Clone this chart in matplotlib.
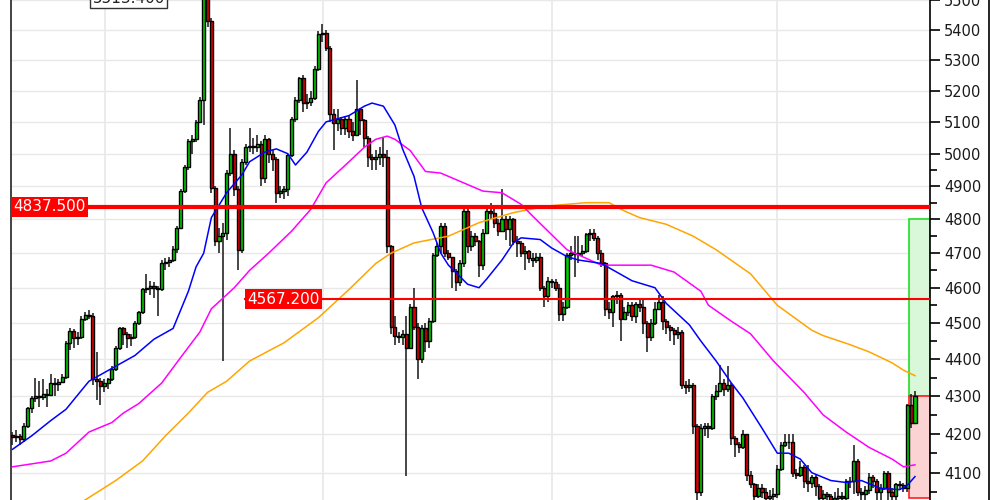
import numpy as np
import matplotlib.pyplot as plt
from matplotlib.ticker import FixedLocator, FuncFormatter, NullFormatter
from matplotlib.patches import Rectangle
from matplotlib.lines import Line2D
from matplotlib.transforms import blended_transform_factory

# candle data (open of each bar = previous close)
first_open = 4198
closes = [4192, 4195, 4188, 4222, 4268, 4295, 4300, 4298, 4305, 4302,
          4335, 4332, 4338, 4352, 4445, 4478, 4458, 4462, 4512, 4522,
          4520, 4345, 4340, 4328, 4335, 4345, 4372, 4430, 4485, 4470,
          4458, 4462, 4500, 4530, 4595, 4600, 4605, 4598, 4595, 4672,
          4675, 4680, 4712, 4775, 4885, 4960, 5040, 5045, 5100, 5170,
          5520, 5430, 4895, 4735, 4750, 4760, 4940, 5000, 4890, 4710,
          4975, 5020, 5025, 5020, 5030, 4925, 5045, 5000, 4985, 4880,
          4885, 4890, 4995, 5110, 5170, 5240, 5160, 5165, 5175, 5270,
          5385, 5390, 5340, 5125, 5095, 5110, 5080, 5110, 5070, 5060,
          5140, 5105, 5050, 4990, 4985, 4990, 5000, 4990, 4720, 4490,
          4465, 4462, 4470, 4432, 4545, 4490, 4400, 4485, 4450, 4505,
          4695, 4720, 4780, 4700, 4690, 4648, 4615, 4670, 4825, 4720,
          4750, 4735, 4665, 4760, 4825, 4820, 4790, 4765, 4800, 4770,
          4800, 4735, 4730, 4700, 4705, 4685, 4680, 4690, 4600, 4575,
          4620, 4615, 4600, 4525, 4545, 4695, 4700, 4698, 4700, 4705,
          4755, 4760, 4745, 4700, 4670, 4540, 4530, 4575, 4580, 4510,
          4530, 4550, 4520, 4555, 4545, 4500, 4460, 4500, 4540, 4560,
          4505, 4490, 4480, 4470, 4475, 4330, 4325, 4330, 4220, 4050,
          4215, 4220, 4215, 4300, 4315, 4335, 4320, 4330, 4190, 4175,
          4165, 4200, 4095, 4070, 4040, 4060, 4050, 4035, 4040, 4045,
          4110, 4170, 4180, 4178, 4100, 4095, 4115, 4080, 4075, 4090,
          4065, 4035, 4045, 4040, 4030, 4035, 4040, 4035, 4080, 4078,
          4130, 4050, 4045, 4055, 4090, 4080, 4050, 4060, 4100, 4050,
          4040, 4070, 4068, 4060, 4275, 4230, 4300]
highs = [4205, 4210, 4200, 4228, 4272, 4300, 4350, 4340, 4345, 4320,
         4360, 4350, 4345, 4360, 4450, 4485, 4482, 4475, 4520, 4530,
         4538, 4528, 4420, 4350, 4345, 4350, 4380, 4435, 4490, 4490,
         4475, 4470, 4505, 4535, 4600, 4640, 4620, 4615, 4605, 4680,
         4685, 4690, 4720, 4780, 4890, 4965, 5045, 5060, 5105, 5180,
         5540, 5530, 5440, 4900, 4775, 4790, 4950, 5080, 5010, 4900,
         4985, 5030, 5080, 5050, 5060, 5040, 5060, 5050, 5010, 4990,
         4900, 4900, 5000, 5115, 5180, 5245, 5250, 5190, 5200, 5280,
         5395, 5420, 5400, 5345, 5140, 5140, 5115, 5120, 5120, 5100,
         5235, 5145, 5110, 5055, 5000, 5010, 5020, 5050, 5010, 4725,
         4520, 4475, 4480, 4520, 4555, 4600, 4500, 4495, 4500, 4515,
         4700, 4730, 4790, 4790, 4710, 4690, 4655, 4680, 4835, 4835,
         4765, 4760, 4740, 4770, 4835, 4850, 4835, 4800, 4890, 4810,
         4810, 4805, 4750, 4735, 4720, 4710, 4700, 4700, 4700, 4605,
         4630, 4625, 4625, 4610, 4560, 4700, 4720, 4750, 4750, 4725,
         4760, 4770, 4770, 4750, 4710, 4675, 4560, 4580, 4590, 4585,
         4545, 4560, 4560, 4560, 4565, 4570, 4505, 4510, 4560, 4580,
         4575, 4510, 4495, 4485, 4490, 4480, 4340, 4345, 4335, 4225,
         4225, 4230, 4230, 4305, 4330, 4385, 4345, 4380, 4335, 4195,
         4180, 4210, 4200, 4105, 4075, 4070, 4070, 4060, 4055, 4060,
         4120, 4180, 4200, 4200, 4200, 4110, 4130, 4120, 4120, 4095,
         4095, 4070, 4055, 4050, 4045, 4050, 4060, 4050, 4085, 4090,
         4170, 4135, 4060, 4065, 4100, 4095, 4085, 4070, 4105, 4105,
         4060, 4075, 4080, 4075, 4280, 4305, 4315]
lows = [4172, 4180, 4170, 4180, 4215, 4255, 4285, 4270, 4290, 4270,
        4300, 4300, 4315, 4335, 4345, 4425, 4430, 4440, 4455, 4505,
        4510, 4330, 4290, 4275, 4310, 4320, 4340, 4368, 4425, 4440,
        4430, 4435, 4455, 4495, 4525, 4585, 4580, 4570, 4520, 4590,
        4650, 4660, 4675, 4700, 4770, 4880, 4950, 5000, 5035, 5095,
        5090, 5410, 4880, 4720, 4700, 4395, 4740, 4930, 4870, 4650,
        4700, 4965, 5005, 5000, 5005, 4900, 4910, 4970, 4945, 4850,
        4865, 4860, 4870, 4990, 5100, 5160, 5130, 5140, 5150, 5170,
        5265, 5360, 5330, 5100, 5010, 5070, 5060, 5060, 5050, 5040,
        5055, 5060, 5020, 4960, 4950, 4950, 4965, 4960, 4700, 4470,
        4440, 4445, 4440, 4092, 4430, 4480, 4345, 4390, 4420, 4430,
        4500, 4690, 4700, 4690, 4680, 4600, 4590, 4605, 4660, 4700,
        4705, 4720, 4630, 4650, 4755, 4800, 4775, 4750, 4770, 4740,
        4720, 4725, 4690, 4690, 4650, 4670, 4660, 4670, 4590, 4545,
        4560, 4600, 4590, 4505, 4505, 4540, 4680, 4630, 4670, 4690,
        4700, 4735, 4735, 4680, 4660, 4520, 4510, 4490, 4555, 4450,
        4515, 4520, 4505, 4500, 4530, 4470, 4420, 4450, 4495, 4540,
        4480, 4470, 4450, 4440, 4455, 4320, 4305, 4310, 4200, 4010,
        4040, 4195, 4190, 4210, 4290, 4310, 4300, 4310, 4170, 4140,
        4150, 4160, 4080, 4060, 4010, 4035, 4035, 4015, 4020, 4020,
        4035, 4105, 4165, 4160, 4090, 4085, 4090, 4060, 4050, 4060,
        4040, 4015, 4020, 4020, 4010, 4015, 4020, 4015, 4020, 4060,
        4045, 4040, 4025, 4030, 4045, 4060, 4020, 4030, 4055, 4030,
        4020, 4030, 4055, 4050, 4050, 4215, 4225]

# moving averages read at sample bars
blue_idx = [0, 5, 10, 14, 18, 20, 26, 32, 37, 42, 46, 48, 50, 52, 56, 60, 62,
            66, 69, 72, 74, 77, 80, 82, 88, 92, 94, 97, 100, 102, 105, 107,
            110, 112, 114, 119, 122, 124, 128, 131, 133, 138, 141, 145, 148,
            154, 162, 168, 171, 177, 180, 184, 188, 191, 196, 200, 203, 206,
            209, 214, 218, 222, 227, 232, 234, 236]
blue_val = [4160, 4195, 4235, 4265, 4315, 4340, 4375, 4410, 4455, 4485, 4590,
            4660, 4700, 4805, 4880, 4935, 4975, 5005, 5015, 5000, 4965, 5005,
            5070, 5100, 5120, 5150, 5160, 5150, 5090, 5015, 4930, 4835, 4760,
            4700, 4665, 4610, 4600, 4625, 4680, 4730, 4745, 4740, 4715, 4690,
            4680, 4670, 4620, 4600, 4555, 4495, 4450, 4395, 4335, 4295, 4215,
            4150, 4150, 4135, 4100, 4080, 4075, 4080, 4060, 4057, 4068, 4090]
magenta_idx = [0, 10, 14, 20, 26, 29, 33, 39, 44, 49, 52, 58, 62, 67, 73, 78,
               82, 88, 92, 95, 98, 100, 104, 108, 112, 117, 123, 128, 133,
               136, 145, 154, 162, 167, 173, 180, 182, 188, 193, 199, 207,
               212, 218, 224, 230, 233, 236]
magenta_val = [4115, 4130, 4150, 4205, 4230, 4255, 4280, 4335, 4405, 4475,
               4540, 4600, 4650, 4700, 4765, 4830, 4910, 4975, 5020, 5045,
               5055, 5045, 5010, 4945, 4940, 4915, 4885, 4880, 4845, 4810,
               4710, 4665, 4665, 4665, 4645, 4590, 4550, 4505, 4470, 4395,
               4310, 4250, 4205, 4165, 4135, 4115, 4120]
orange_idx = [18, 27, 34, 40, 46, 51, 56, 62, 71, 80, 88, 95, 99, 105, 114,
              122, 131, 140, 150, 156, 160, 164, 171, 178, 184, 193, 200, 209,
              212, 219, 224, 230, 233, 236]
orange_val = [4025, 4080, 4130, 4195, 4255, 4310, 4340, 4395, 4445, 4515, 4595,
              4670, 4700, 4730, 4750, 4790, 4820, 4840, 4850, 4850, 4825, 4805,
              4785, 4750, 4710, 4640, 4550, 4480, 4465, 4440, 4420, 4390, 4370,
              4355]

level_hi = 4837.5
level_lo = 4567.2
target_price = 4800
entry_price = 4300
stop_price = 4035
peak_text = "5513.400"
y_major = list(range(4100, 5600, 100))
y_minor = list(range(4050, 5000, 100))
month_bars = [24.2, 81.2, 141.1, 200.0]

opens = [first_open] + closes[:-1]
x = np.arange(len(closes))
o = np.array(opens, dtype=float)
c = np.array(closes, dtype=float)
h = np.maximum(np.array(highs, dtype=float), np.maximum(o, c))
l = np.minimum(np.array(lows, dtype=float), np.minimum(o, c))

fig = plt.figure(figsize=(10, 5), dpi=100, facecolor='white')
ax = fig.add_axes([0.0107, 0.0, 0.9193, 1.0])
ax.set_facecolor('white')
ax.set_yscale('log')
ax.set_xlim(-0.47, 239.93)
ax.set_ylim(4030.9, 5501.7)

# grid
for yv in y_major:
    ax.axhline(yv, color='#e8e8e8', lw=1, zorder=0)
for xv in month_bars:
    ax.axvline(xv, color='#e8e8e8', lw=1.2, zorder=0)

# position box
x0 = 234.4
ax.add_patch(Rectangle((x0, entry_price), 239.93 - x0, target_price - entry_price,
                       facecolor='#d9f7d9', edgecolor='#22dd22', lw=1.2, zorder=1))
ax.add_patch(Rectangle((x0, stop_price), 239.93 - x0, entry_price - stop_price,
                       facecolor='#fbd3d3', edgecolor='#ff2020', lw=1.2, zorder=1))

# candles
up = c >= o
colors = np.where(up, '#00cc00', '#e00000')
ax.vlines(x, l, h, color='#151515', lw=1.1, zorder=2)
bottoms = np.minimum(o, c)
heights = np.maximum(np.abs(c - o), 1.5)
ax.bar(x, heights, bottom=bottoms, width=0.8, color=colors,
       edgecolor='black', linewidth=1.0, zorder=3)

# moving averages
ax.plot(orange_idx, orange_val, color='#ffa500', lw=1.1, zorder=4)
ax.plot(magenta_idx, magenta_val, color='#ff00ff', lw=1.1, zorder=4)
ax.plot(blue_idx, blue_val, color='#0000ff', lw=1.1, zorder=4)

# price levels
bt = blended_transform_factory(ax.transAxes, ax.transData)
ax.axhline(level_hi, color='#ff0000', lw=3, zorder=5)
ax.axhline(level_lo, xmin=0.2549, xmax=1, color='#ff0000', lw=1.5, zorder=5)
ax.text(0.0025, level_hi, f"{level_hi:.3f}", transform=bt, ha='left', va='center',
        color='white', fontsize=11, zorder=6,
        bbox=dict(boxstyle='square,pad=0.15', facecolor='#ff0000', edgecolor='none'))
ax.text(0.2574, level_lo, f"{level_lo:.3f}", transform=bt, ha='left', va='center',
        color='white', fontsize=11, zorder=6,
        bbox=dict(boxstyle='square,pad=0.15', facecolor='#ff0000', edgecolor='none'))

# peak label, mostly cut off at the top
fig.text(0.0925, 0.988, peak_text, ha='left', va='bottom', fontsize=11, color='#222222',
         bbox=dict(boxstyle='square,pad=0.15', facecolor='white', edgecolor='#333333', lw=1))

# axis styling
for side in ['top', 'bottom']:
    ax.spines[side].set_visible(False)
ax.spines['left'].set_color('#222222')
ax.spines['left'].set_linewidth(1.2)
ax.spines['right'].set_color('black')
ax.spines['right'].set_linewidth(1.2)
ax.yaxis.tick_right()
ax.yaxis.set_major_locator(FixedLocator(y_major))
ax.yaxis.set_major_formatter(FuncFormatter(lambda v, p: f"{int(round(v))}"))
ax.yaxis.set_minor_locator(FixedLocator(y_minor))
ax.yaxis.set_minor_formatter(NullFormatter())
ax.tick_params(axis='y', which='major', length=7, width=1.2, pad=3,
               labelsize=10.5, labelcolor='#1a1a1a')
ax.tick_params(axis='y', which='minor', length=5, width=1.2)
ax.set_xticks([])

fig.add_artist(Line2D([0.989, 0.989], [0, 1], color='black', lw=1.2))

fig.savefig('out.png', dpi=100, facecolor='white')
